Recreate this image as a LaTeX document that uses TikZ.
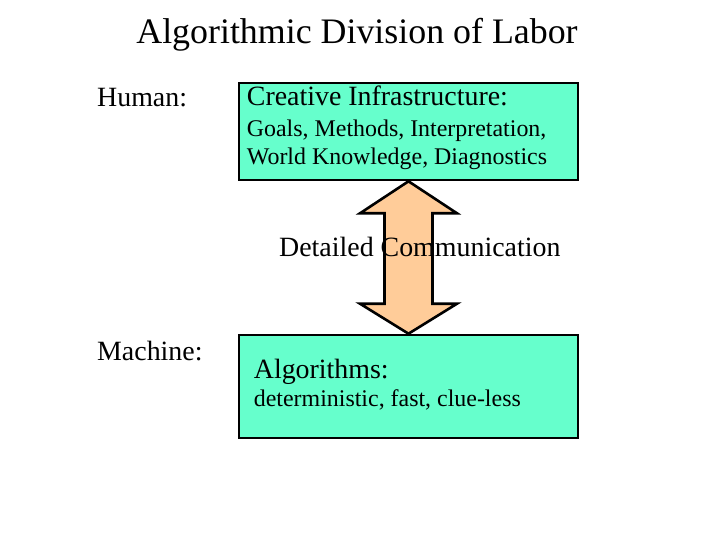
\documentclass[tikz,border=0pt]{standalone}
\usepackage{fontspec}
\setmainfont{Liberation Serif}
\usepackage{tikz}
\usetikzlibrary{positioning, calc}
\definecolor{myaqua}{RGB}{102,255,204}
\definecolor{mypeach}{RGB}{255,204,153}
\definecolor{mydark}{RGB}{0,0,0}
\tikzset{
  taskbox/.style={rectangle, draw=mydark, fill=myaqua,
    minimum width=339bp, minimum height=97bp, line width=2.6bp},
  bigtxt/.style={font=\fontsize{28}{33}\selectfont, anchor=base west, inner sep=0pt},
  smalltxt/.style={font=\fontsize{24}{28}\selectfont, anchor=base west, inner sep=0pt},
  commarrow/.style={draw=mydark, fill=mypeach, line width=2.6bp, line join=miter}
}
\begin{document}
\begin{tikzpicture}[x=1bp, y=-1bp]
  \useasboundingbox (0,0) rectangle (720,540);

  % Title
  \node[font=\fontsize{36}{43}\selectfont, anchor=base, inner sep=0pt] (title) at (357,43.5) {Algorithmic Division of Labor};

  % Boxes
  \node[taskbox] (human) at (408.5,131.5) {};
  \node[taskbox, minimum height=103bp] (machine) at (408.5,386.5) {};

  % Double arrow between the boxes
  \draw[commarrow] (human.south) -- ++(48.5,32) -- ++(-24.5,0)
    -- ($(machine.north)+(24,-30)$) -- ++(24.5,0) -- (machine.north)
    -- ++(-48.5,-30) -- ++(24.5,0) -- ($(human.south)+(-24,32)$)
    -- ++(-24.5,0) -- cycle;

  % Row labels
  \node[bigtxt] (hlabel) at (97,107) {Human:};
  \node[bigtxt] (mlabel) at (97,360) {Machine:};

  % Texts in the boxes
  \node[bigtxt] (infra) at ($(human.north west)+(9,24)$) {Creative Infrastructure:};
  \node[smalltxt] (goals) at ($(human.north west)+(9,55)$) {Goals, Methods, Interpretation,};
  \node[smalltxt] (world) at ($(human.north west)+(9,83)$) {World Knowledge, Diagnostics};
  \node[bigtxt] (algo) at ($(machine.north west)+(16,45)$) {Algorithms:};
  \node[smalltxt] (props) at ($(machine.north west)+(16,73)$) {deterministic, fast, clue-less};

  % Label over the arrow
  \node[bigtxt] (comm) at (279,257) {Detailed Communication};
\end{tikzpicture}
\end{document}
